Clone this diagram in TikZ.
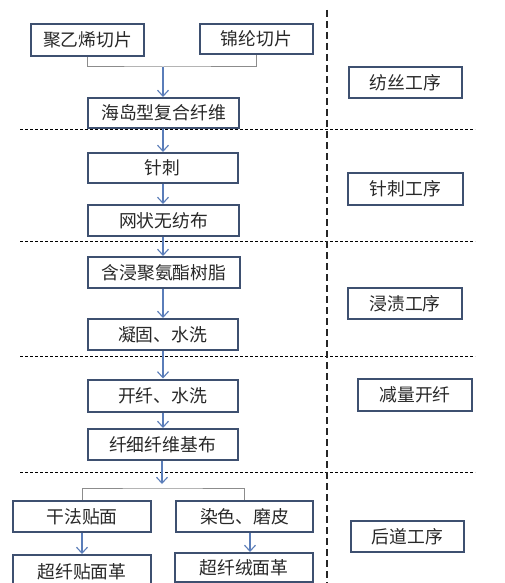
\documentclass[tikz,border=0pt]{standalone}
\usepackage{fontspec}
\setmainfont{Noto Sans CJK SC}
\usetikzlibrary{arrows.meta}
\definecolor{boxline}{RGB}{62,80,112}
\definecolor{arrblue}{RGB}{90,125,185}
\definecolor{brgray}{RGB}{140,140,140}
\definecolor{txt}{RGB}{40,40,40}
\begin{document}
\begin{tikzpicture}[x=1pt,y=-1pt,
  box/.style={draw=boxline,line width=2pt,fill=white,rectangle,inner sep=0pt,
    text=txt,font=\fontsize{17.8}{20}\selectfont},
  arr/.style={draw=arrblue,line width=1.1pt,-{Straight Barb[length=6pt,width=11pt,line width=1.1pt]}},
  bracket/.style={draw=brgray,line width=1pt},
  hsep/.style={draw=black,line width=0.8pt,dash pattern=on 3pt off 2pt},
  vsep/.style={draw=black!85,line width=2.2pt,dash pattern=on 7pt off 4pt}]
\useasboundingbox (0,0) rectangle (505,583);
\fill[white] (0,0) rectangle (505,583);
% separators
\draw[hsep] (20,129) -- (475,129);
\draw[hsep] (20,241) -- (475,241);
\draw[hsep] (20,356) -- (475,356);
\draw[hsep] (20,472) -- (475,472);
\draw[vsep] (327,10) -- (327,590);
% boxes
\node[box,minimum width=113pt,minimum height=32pt] (pe) at (87.5,40) {聚乙烯切片};
\node[box,minimum width=113pt,minimum height=30pt] (ny) at (256.5,39) {锦纶切片};
\node[box,minimum width=151pt,minimum height=30pt] (island) at (163.5,113) {海岛型复合纤维};
\node[box,minimum width=150pt,minimum height=30pt] (needle) at (162.5,168) {针刺};
\node[box,minimum width=151pt,minimum height=31pt] (web) at (163.5,220.5) {网状无纺布};
\node[box,minimum width=152pt,minimum height=31pt] (imp) at (164,272.5) {含浸聚氨酯树脂};
\node[box,minimum width=150pt,minimum height=31pt] (coag) at (162.5,334.5) {凝固、水洗};
\node[box,minimum width=150pt,minimum height=32pt] (open) at (162.5,395.5) {开纤、水洗};
\node[box,minimum width=150pt,minimum height=31pt] (base) at (162.5,444.5) {纤细纤维基布};
\node[box,minimum width=138pt,minimum height=31pt] (dry) at (82,516.5) {干法贴面};
\node[box,minimum width=137pt,minimum height=31pt] (dye) at (244.5,516.5) {染色、磨皮};
\node[box,minimum width=138pt,minimum height=34pt] (pul) at (82,572) {超纤贴面革};
\node[box,minimum width=138pt,minimum height=29pt] (sue) at (244,567.5) {超纤绒面革};
% stage labels
\node[box,minimum width=113pt,minimum height=31pt] (l1) at (405.5,82.5) {纺丝工序};
\node[box,minimum width=115pt,minimum height=32pt] (l2) at (405.5,189) {针刺工序};
\node[box,minimum width=114pt,minimum height=31pt] (l3) at (405,303.5) {浸渍工序};
\node[box,minimum width=114pt,minimum height=32pt] (l4) at (415,395) {减量开纤};
\node[box,minimum width=113pt,minimum height=31pt] (l5) at (407.5,536.5) {后道工序};
% connectors
\coordinate (j1) at (163,67);
\draw[bracket] (pe.south) |- (j1) -| (ny.south);
\draw[arr] (j1) -- (island.north -| j1);
\draw[arr] (island.south -| j1) -- (needle.north -| j1);
\draw[arr] (needle.south -| j1) -- (web.north -| j1);
\draw[arr] (web.south -| j1) -- (imp.north -| j1);
\draw[arr] (imp.south -| j1) -- (coag.north -| j1);
\draw[arr] (coag.south -| j1) -- (open.north -| j1);
\draw[arr] (open.south -| j1) -- (base.north -| j1);
\coordinate (j2) at (162,484);
\draw[arr] (base.south -| j2) -- (j2);
\coordinate (j3) at (162,488);
\draw[bracket] (dry.north) |- (j3) -| (dye.north);
\draw[arr] (dry.south) -- (pul.north);
\coordinate (j4) at (250,540);
\draw[arr] (dye.south -| j4) -- (sue.north -| j4);
\end{tikzpicture}
\end{document}
